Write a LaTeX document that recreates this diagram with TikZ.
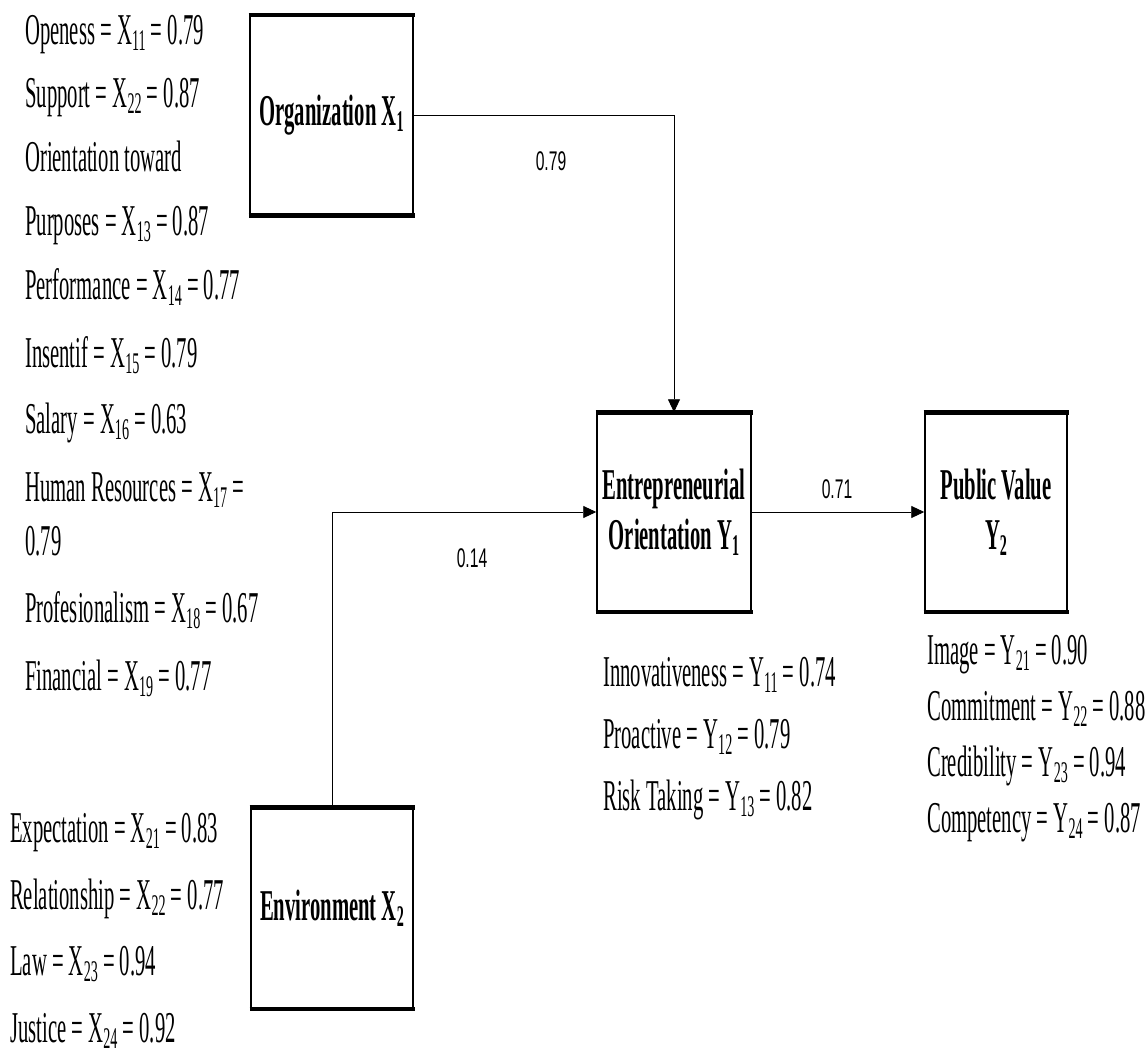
\documentclass[tikz,border=0pt]{standalone}
\usepackage{fontspec}
\setmainfont{Liberation Serif}[FakeStretch=0.47]
\newfontfamily\lblfont{Liberation Sans}[FakeStretch=0.58]
\usetikzlibrary{arrows.meta}
\newcommand\sbx[1]{\raisebox{-6pt}{\fontsize{30}{30}\selectfont #1}}
\tikzset{
  item/.style={anchor=base west, inner sep=0pt, font=\fontsize{44}{46}\selectfont},
  box/.style={draw, line width=1.5pt, inner sep=0pt, align=center,
    font=\fontsize{44}{50}\selectfont\bfseries},
  coef/.style={inner sep=0pt, font=\lblfont\fontsize{27}{27}\selectfont},
  link/.style={line width=0.9pt, -{Triangle[length=13pt,width=12pt]}},
}
\begin{document}
\begin{tikzpicture}[x=1pt,y=-1pt]
\useasboundingbox[fill=white] (0,0) rectangle (1145,1056);

% boxes
\node[box, minimum width=163pt, minimum height=199pt] (org) at (331.5,115.5) {Organization X\sbx{1}};
\node[box, minimum width=154pt, minimum height=198pt] (ent) at (674,512) {Entrepreneurial\\Orientation Y\sbx{1}};
\node[box, minimum width=142pt, minimum height=198pt] (pv) at (996,512) {Public Value\\Y\sbx{2}};
\node[box, minimum width=162pt, minimum height=200pt] (env) at (332,908) {Environment X\sbx{2}};
\foreach \b in {org,ent,pv,env}{
  \draw[line width=4.5pt] ([xshift=-0.75pt]\b.north west) -- ([xshift=0.75pt]\b.north east);
  \draw[line width=4.5pt] ([xshift=-0.75pt]\b.south west) -- ([xshift=0.75pt]\b.south east);
}

% connectors
\draw[link] (org.east) -| (ent.north);
\draw[link] (env.north) |- (ent.west);
\draw[link] (ent.east) -- (pv.west);

\node[coef] (c1) at (551,161) {0.79};
\node[coef] (c2) at (472,558) {0.14};
\node[coef] (c3) at (837,489) {0.71};

% organization indicators
\node[item] (l1) at (25,45) {Openess = X\sbx{11} = 0.79};
\node[item] (l2) at (25,108) {Support = X\sbx{22} = 0.87};
\node[item] (l3) at (25,172) {Orientation toward};
\node[item] (l4) at (25,236) {Purposes = X\sbx{13} = 0.87};
\node[item] (l5) at (25,300) {Performance = X\sbx{14} = 0.77};
\node[item] (l6) at (25,367) {Insentif = X\sbx{15} = 0.79};
\node[item] (l7) at (25,433) {Salary = X\sbx{16} = 0.63};
\node[item] (l8) at (25,501) {Human Resources = X\sbx{17} =};
\node[item] (l9) at (25,555) {0.79};
\node[item] (l10) at (25,622) {Profesionalism = X\sbx{18} = 0.67};
\node[item] (l11) at (25,690) {Financial = X\sbx{19} = 0.77};

% environment indicators
\node[item] (e1) at (10,842) {Expectation = X\sbx{21} = 0.83};
\node[item] (e2) at (10,909) {Relationship = X\sbx{22} = 0.77};
\node[item] (e3) at (10,975) {Law = X\sbx{23} = 0.94};
\node[item] (e4) at (10,1042) {Justice = X\sbx{24} = 0.92};

% entrepreneurial orientation indicators
\node[item] (y1) at (603,686) {Innovativeness = Y\sbx{11} = 0.74};
\node[item] (y2) at (603,748) {Proactive = Y\sbx{12} = 0.79};
\node[item] (y3) at (603,810) {Risk Taking = Y\sbx{13} = 0.82};

% public value indicators
\node[item] (p1) at (927,664) {Image = Y\sbx{21} = 0.90};
\node[item] (p2) at (927,720) {Commitment = Y\sbx{22} = 0.88};
\node[item] (p3) at (927,776) {Credibility = Y\sbx{23} = 0.94};
\node[item] (p4) at (927,832) {Competency = Y\sbx{24} = 0.87};
\end{tikzpicture}
\end{document}
